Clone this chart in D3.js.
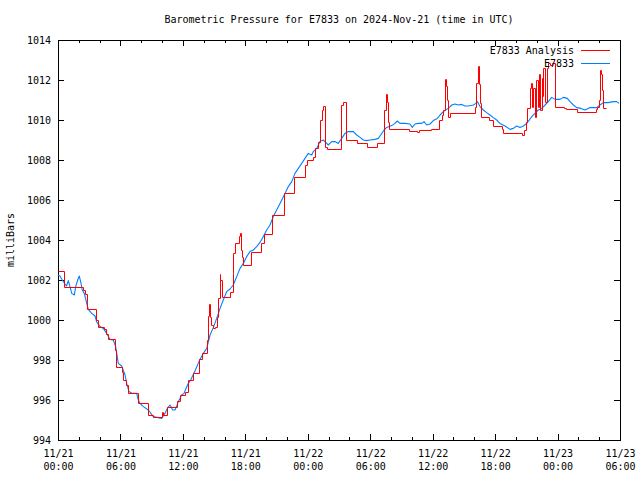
<!DOCTYPE html>
<html>
<head>
<meta charset="utf-8">
<script src="https://cdn.jsdelivr.net/npm/d3@7"></script>
<style>
  html, body { margin: 0; padding: 0; background: #fff; }
  svg { display: block; }
  text { font-family: "DejaVu Sans Mono", monospace; font-size: 10px; fill: #000; }
</style>
</head>
<body>
<svg id="chart" width="640" height="480"></svg>
<script>
// ---------- data ----------
const startTime = "2024-11-21T00:00:00Z";
const endTime = "2024-11-23T06:00:00Z";

// Observed station E7833 (hours since start, millibars)
const blueHours = [0,0.19,0.41,0.67,0.82,0.99,1.15,1.32,1.57,1.7,1.89,2.05,2.21,2.33,2.53,2.76,2.91,3.24,3.56,3.72,4.04,4.35,4.68,5.0,5.31,5.54,5.79,6.12,6.44,6.6,6.82,7.14,7.56,7.72,7.88,8.2,8.68,9.16,9.64,9.96,10.28,10.5,10.76,11.02,11.24,11.41,11.56,11.72,11.88,12.11,12.3,12.52,12.75,13.16,13.64,13.96,14.29,14.61,14.93,15.25,15.57,15.88,16.21,16.53,16.84,17.17,17.49,17.81,18.13,18.45,18.77,19.09,19.41,19.73,20.05,20.37,20.69,21.33,21.81,22.13,22.46,22.77,23.09,23.42,23.73,24.05,24.38,24.53,24.86,25.17,25.49,25.82,25.97,26.3,26.62,26.93,27.26,27.58,27.89,28.38,28.7,29.02,29.34,29.66,29.98,30.46,30.78,31.01,31.33,31.58,32.06,32.38,32.6,32.86,33.34,33.82,34.04,34.3,34.62,34.95,35.17,35.43,35.75,36.06,36.45,36.71,37.02,37.35,37.6,37.83,38.15,38.46,38.79,39.11,39.43,39.91,40.16,40.29,40.55,40.87,41.19,41.51,41.83,42.15,42.47,42.95,43.43,43.75,44.08,44.39,44.71,45.04,45.29,45.52,45.83,46.15,46.48,46.8,47.11,47.44,47.76,48.24,48.56,48.94,49.2,49.52,49.84,50.23,50.64,51.12,51.76,52.08,52.39,52.87,53.35,53.68,53.9];
const bluePressure = [1002.25,1002.2,1002.0,1001.8,1001.7,1001.97,1001.67,1001.33,1001.25,1001.67,1002.0,1002.2,1001.83,1001.5,1001.33,1000.83,1000.53,1000.33,1000.2,999.9,999.67,999.58,999.33,999.03,999.0,998.67,997.83,997.7,997.25,996.83,996.42,996.33,996.33,996.0,995.83,995.67,995.5,995.17,995.12,995.08,995.33,995.58,995.75,995.5,995.5,995.7,995.92,996.08,996.25,996.33,996.58,996.83,997.0,997.45,998.03,998.33,998.58,999.25,999.63,1000.08,1000.58,1001.0,1001.42,1001.55,1001.75,1002.17,1002.58,1002.83,1003.17,1003.42,1003.5,1003.67,1003.88,1004.17,1004.5,1004.75,1005.17,1005.83,1006.33,1006.67,1006.92,1007.33,1007.58,1007.83,1008.08,1008.33,1008.25,1008.42,1008.58,1008.92,1009.0,1008.83,1008.75,1008.92,1008.92,1008.83,1009.08,1009.33,1009.42,1009.42,1009.25,1009.13,1009.0,1008.97,1009.0,1009.03,1009.08,1009.25,1009.5,1009.63,1009.72,1009.83,1009.95,1009.83,1009.83,1009.8,1009.63,1009.8,1009.83,1009.83,1009.92,1009.75,1009.8,1009.97,1010.08,1010.25,1010.42,1010.53,1010.63,1010.75,1010.8,1010.75,1010.78,1010.7,1010.7,1010.75,1010.83,1010.92,1010.67,1010.5,1010.37,1010.25,1010.12,1010.0,1009.83,1009.7,1009.53,1009.58,1009.7,1009.63,1009.7,1009.83,1010.0,1010.17,1010.33,1010.5,1010.58,1010.75,1010.92,1011.13,1011.03,1011.03,1011.13,1011.08,1010.92,1010.75,1010.62,1010.58,1010.5,1010.62,1010.62,1010.75,1010.87,1010.87,1010.92,1010.92,1010.83];

// Analysis E7833 (change points: hours since start, millibars)
const redHours = [0,0.6,2.43,2.55,2.74,2.82,3.62,3.81,4.45,4.61,4.78,5.48,5.62,6.12,6.29,6.49,6.75,7.72,8.65,9.13,9.96,10.09,10.5,11.46,11.72,12.2,12.49,12.97,13.5,13.81,14.32,14.46,14.54,14.63,14.7,14.86,15.09,15.25,15.4,15.52,15.61,15.73,16.53,16.77,16.84,17.01,17.39,17.49,17.58,17.68,17.8,18.5,19.51,19.82,20.61,21.67,22.68,23.73,23.97,24.5,24.74,25.03,25.17,25.34,25.46,25.66,25.8,27.19,27.34,27.72,28.7,29.72,30.62,31.32,31.5,31.61,31.71,31.83,33.71,34.54,34.69,35.84,36.61,36.85,37.04,37.17,37.28,37.41,37.5,37.62,40.1,40.21,40.33,40.46,40.56,40.69,41.39,41.75,42.66,42.8,44.58,44.73,44.97,45.1,45.31,45.45,45.57,45.67,45.83,45.93,46.09,46.17,46.31,46.46,46.53,46.63,46.76,46.94,47.06,47.27,47.51,47.76,48.62,48.81,49.87,51.69,51.82,51.95,52.08,52.18,52.27,52.4,52.66];
const redPressure = [1002.45,1001.63,1001.5,1001.3,1000.9,1000.53,1000.0,999.67,999.55,999.3,999.03,998.5,997.63,997.4,997.0,996.75,996.33,995.87,995.23,995.17,995.38,995.25,995.63,995.97,996.27,996.42,997.0,997.35,998.05,998.33,999.0,1000.2,1000.8,1000.17,999.75,999.58,999.67,1000.17,1001.08,1002.3,1002.0,1001.17,1001.42,1002.33,1003.33,1003.87,1004.2,1004.33,1003.5,1003.17,1002.75,1003.42,1003.83,1004.3,1005.25,1006.33,1007.17,1007.75,1008.0,1008.17,1008.58,1008.92,1010.0,1010.5,1010.7,1008.67,1008.53,1010.75,1010.92,1009.0,1008.87,1008.67,1008.87,1010.5,1011.3,1010.9,1009.9,1009.53,1009.45,1009.4,1009.5,1009.55,1010.0,1010.25,1010.5,1012.03,1011.7,1011.0,1010.17,1010.33,1010.67,1011.83,1012.7,1011.8,1010.83,1010.17,1010.0,1009.7,1009.53,1009.33,1009.25,1009.5,1009.92,1010.6,1011.6,1011.83,1010.67,1011.58,1010.17,1012.0,1010.67,1012.3,1010.5,1012.1,1011.2,1012.58,1010.9,1012.6,1012.85,1012.75,1012.85,1010.67,1010.58,1010.53,1010.42,1010.55,1010.67,1011.0,1012.5,1012.3,1011.5,1010.58,1010.58];

const yTicks = [994,996,998,1000,1002,1004,1006,1008,1010,1012,1014];
const xTickDates = ["11/21","11/21","11/21","11/21","11/22","11/22","11/22","11/22","11/23","11/23"];
const xTickTimes = ["00:00","06:00","12:00","18:00","00:00","06:00","12:00","18:00","00:00","06:00"];
const seriesNames = ["E7833 Analysis", "E7833"];
const seriesColors = ["#ff0000", "#0080ff"];
const titleText = "Barometric Pressure for E7833 on 2024-Nov-21 (time in UTC)";
const yLabel = "milliBars";

// ---------- layout ----------
const L = 58, R = 620, T = 40, B = 440;
const svg = d3.select("#chart");
const t0 = new Date(startTime), t1 = new Date(endTime);
const toDate = h => new Date(t0.getTime() + h * 3600000);

const x = d3.scaleUtc().domain([t0, t1]).range([L, R]);
const y = d3.scaleLinear().domain([994, 1014]).range([B, T]);
const px = v => Math.round(v) + 0.5;

const majorTicks = d3.utcHour.every(6).range(t0, new Date(t1.getTime() + 1));
const minorTicks = d3.utcHour.every(2).range(t0, new Date(t1.getTime() + 1));

function styleAxis(g) {
  g.selectAll("path").remove();
  g.selectAll("line").attr("stroke", "#000").attr("shape-rendering", "crispEdges");
}
svg.append("g").attr("transform", `translate(0,${B})`)
  .call(d3.axisBottom(x).tickValues(minorTicks).tickSize(-3).tickFormat(""))
  .call(styleAxis).selectAll("text").remove();
svg.append("g").attr("transform", `translate(0,${T})`)
  .call(d3.axisTop(x).tickValues(minorTicks).tickSize(-3).tickFormat(""))
  .call(styleAxis).selectAll("text").remove();
const xb = svg.append("g").attr("transform", `translate(0,${B})`)
  .call(d3.axisBottom(x).tickValues(majorTicks).tickSize(-6).tickPadding(0).tickFormat(""))
  .call(styleAxis);
xb.selectAll("text").remove();
xb.selectAll(".tick").each(function(d, i) {
  const tx = d3.select(this).append("text").attr("text-anchor", "middle");
  tx.append("tspan").attr("x", 0).attr("y", 17).text(xTickDates[i]);
  tx.append("tspan").attr("x", 0).attr("y", 30).text(xTickTimes[i]);
});
svg.append("g").attr("transform", `translate(0,${T})`)
  .call(d3.axisTop(x).tickValues(majorTicks).tickSize(-6).tickFormat(""))
  .call(styleAxis).selectAll("text").remove();

svg.append("g").attr("transform", `translate(${L},0)`)
  .call(d3.axisLeft(y).tickValues(yTicks).tickSize(-6).tickPadding(7).tickFormat(d3.format("d")))
  .call(styleAxis);
svg.append("g").attr("transform", `translate(${R},0)`)
  .call(d3.axisRight(y).tickValues(yTicks).tickSize(-6).tickFormat(""))
  .call(styleAxis).selectAll("text").remove();

svg.selectAll(".tick text").attr("font-family", null).attr("font-size", null).attr("fill", "#000");

// border
svg.append("rect").attr("x", L).attr("y", T).attr("width", R - L).attr("height", B - T)
  .attr("fill", "none").attr("stroke", "#000").attr("stroke-width", 1).attr("shape-rendering", "crispEdges");

// series
const redData = redHours.map((h, i) => ({ t: toDate(h), v: redPressure[i] }));
const blueData = blueHours.map((h, i) => ({ t: toDate(h), v: bluePressure[i] }));

const plot = svg.append("g");
plot.append("path").datum(blueData)
  .attr("fill", "none").attr("stroke", seriesColors[1]).attr("stroke-width", 1.1)
  .attr("stroke-linejoin", "round")
  .attr("d", d3.line().x(d => x(d.t)).y(d => y(d.v)));
plot.append("path").datum(redData)
  .attr("fill", "none").attr("stroke", seriesColors[0]).attr("stroke-width", 1)
  .attr("d", d3.line().x(d => px(x(d.t))).y(d => px(y(d.v))).curve(d3.curveStepAfter));

// legend
const legendY = [50, 63];
seriesNames.forEach((name, i) => {
  svg.append("text").attr("x", 574).attr("y", legendY[i]).attr("dy", "0.35em")
    .attr("text-anchor", "end").text(name);
  svg.append("line").attr("x1", 581).attr("x2", 610).attr("y1", legendY[i] + 0.5).attr("y2", legendY[i] + 0.5)
    .attr("stroke", seriesColors[i]).attr("stroke-width", 1);
});

// title & y label
svg.append("text").attr("x", (L + R) / 2).attr("y", 23).attr("text-anchor", "middle").text(titleText);
svg.append("text").attr("transform", `translate(14,${(T + B) / 2}) rotate(-90)`)
  .attr("text-anchor", "middle").text(yLabel);
</script>
</body>
</html>
